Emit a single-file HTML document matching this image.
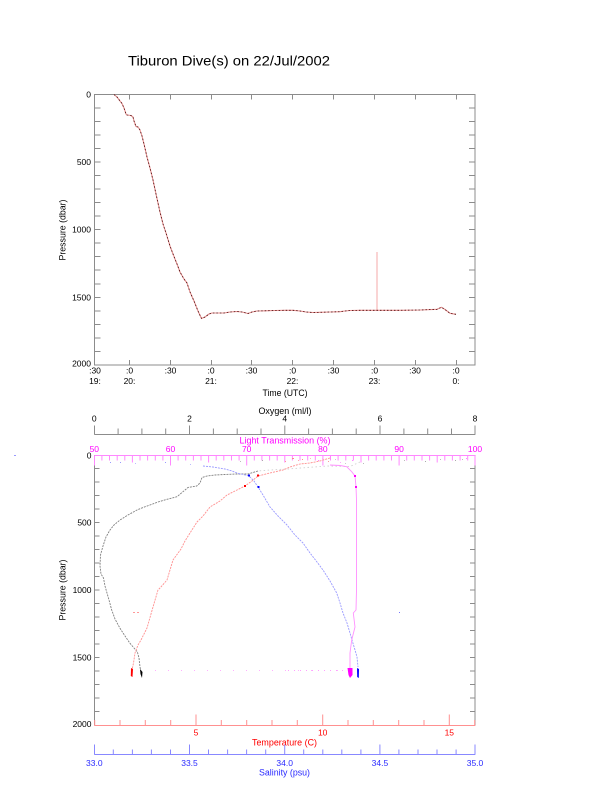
<!DOCTYPE html>
<html>
<head>
<meta charset="utf-8">
<style>
html,body{margin:0;padding:0;background:#fff;}
svg{display:block;}
text{font-family:"Liberation Sans",sans-serif;}
</style>
</head>
<body>
<svg width="612" height="785" viewBox="0 0 612 785" xmlns="http://www.w3.org/2000/svg">
<rect width="612" height="785" fill="#fff"/>

<!-- Title -->
<text x="128" y="65.5" font-size="14" fill="#000" textLength="202" lengthAdjust="spacingAndGlyphs">Tiburon Dive(s) on 22/Jul/2002</text>

<!-- ================= TOP PLOT ================= -->
<rect x="94.5" y="94.5" width="380.5" height="270.5" fill="none" stroke="#8c8c8c" stroke-width="1"/>
<path stroke="#8c8c8c" stroke-width="1" fill="none" d="
M94.5 108h6 M94.5 121.5h6 M94.5 135h6 M94.5 148.5h6 M94.5 162h6 M94.5 175.5h6 M94.5 189h6 M94.5 202.5h6 M94.5 216h6 M94.5 229.5h6 M94.5 243h6 M94.5 256.5h6 M94.5 270h6 M94.5 284h6 M94.5 297.5h6 M94.5 311h6 M94.5 324.5h6 M94.5 338h6 M94.5 351.5h6
M475 108h-6 M475 121.5h-6 M475 135h-6 M475 148.5h-6 M475 162h-6 M475 175.5h-6 M475 189h-6 M475 202.5h-6 M475 216h-6 M475 229.5h-6 M475 243h-6 M475 256.5h-6 M475 270h-6 M475 284h-6 M475 297.5h-6 M475 311h-6 M475 324.5h-6 M475 338h-6 M475 351.5h-6
M129.5 365v-5 M170.5 365v-5 M211.5 365v-5 M251.5 365v-5 M292.5 365v-5 M333.5 365v-5 M374.5 365v-5 M415.5 365v-5 M456.5 365v-5
M129.5 94.5v5 M170.5 94.5v5 M211.5 94.5v5 M251.5 94.5v5 M292.5 94.5v5 M333.5 94.5v5 M374.5 94.5v5 M415.5 94.5v5 M456.5 94.5v5
"/>
<g font-size="8.5" fill="#000" text-anchor="end">
<text x="91" y="97.5">0</text>
<text x="91" y="165">500</text>
<text x="91" y="232.5">1000</text>
<text x="91" y="300.5">1500</text>
<text x="91" y="366.5">2000</text>
</g>
<text transform="translate(65.5,230) rotate(-90)" font-size="8.8" text-anchor="middle" fill="#000" textLength="61" lengthAdjust="spacingAndGlyphs">Pressure (dbar)</text>
<g font-size="8.5" fill="#000" text-anchor="middle">
<text x="95" y="373.5">:30</text><text x="95" y="384">19:</text>
<text x="129.5" y="373.5">:0</text><text x="129.5" y="384">20:</text>
<text x="170.5" y="373.5">:30</text>
<text x="211" y="373.5">:0</text><text x="211" y="384">21:</text>
<text x="251.5" y="373.5">:30</text>
<text x="292.5" y="373.5">:0</text><text x="292.5" y="384">22:</text>
<text x="333.5" y="373.5">:30</text>
<text x="374.5" y="373.5">:0</text><text x="374.5" y="384">23:</text>
<text x="415" y="373.5">:30</text>
<text x="456" y="373.5">:0</text><text x="456" y="384">0:</text>
</g>
<text x="285" y="396" font-size="8.8" text-anchor="middle" fill="#000" textLength="45" lengthAdjust="spacingAndGlyphs">Time (UTC)</text>

<line x1="377" y1="252" x2="377" y2="310.5" stroke="#f4a8a8" stroke-width="1"/>
<polyline fill="none" stroke="#e89090" stroke-width="1.1" stroke-linejoin="round" points="
114,94.5 117,97 120,101 122,103.5 124,108 126,114 127,115 131,115.5 133,117 134,121 136,126.5 138,127 140,130 142,136 144,144 147,157 150,168 153,180 156,194 160,212 163,224 166,233 170,246 173,254 177,264 180,272 184,279 187,283 190,292 194,301 198,311 201.5,318.5 205,317 209,314 212,313 218,313 224,313 230,312 237,311.5 242,312 248,313.5 252,312 257,311 265,310.8 275,310.5 285,310.3 293,310.3 300,311 306,312 313,312.5 320,312.3 330,312 340,311.7 345,311 350,310.5 360,310.3 377,310.3 400,310.3 420,310 437,309.3 441.5,307.3 445,309.5 450,313.3 456,314.3"/>
<polyline fill="none" stroke="#4a1010" stroke-width="0.8" stroke-dasharray="1.5 2" stroke-linejoin="round" points="
114,94.5 117,97 120,101 122,103.5 124,108 126,114 127,115 131,115.5 133,117 134,121 136,126.5 138,127 140,130 142,136 144,144 147,157 150,168 153,180 156,194 160,212 163,224 166,233 170,246 173,254 177,264 180,272 184,279 187,283 190,292 194,301 198,311 201.5,318.5 205,317 209,314 212,313 218,313 224,313 230,312 237,311.5 242,312 248,313.5 252,312 257,311 265,310.8 275,310.5 285,310.3 293,310.3 300,311 306,312 313,312.5 320,312.3 330,312 340,311.7 345,311 350,310.5 360,310.3 377,310.3 400,310.3 420,310 437,309.3 441.5,307.3 445,309.5 450,313.3 456,314.3"/>

<!-- ================= BOTTOM PLOT ================= -->
<line x1="94.5" y1="455" x2="94.5" y2="725.5" stroke="#8c8c8c" stroke-width="1"/>
<line x1="475" y1="455" x2="475" y2="725.5" stroke="#8c8c8c" stroke-width="1"/>
<path stroke="#8c8c8c" stroke-width="1" fill="none" d="
M94.5 468.5h5 M94.5 482h5 M94.5 495.5h5 M94.5 509h5 M94.5 522.5h5 M94.5 536h5 M94.5 549.5h5 M94.5 563h5 M94.5 576.5h5 M94.5 590h5 M94.5 603.5h5 M94.5 617h5 M94.5 630.5h5 M94.5 644h5 M94.5 657.5h5 M94.5 671h5 M94.5 684.5h5 M94.5 698h5 M94.5 711.5h5
M475 468.5h-5 M475 482h-5 M475 495.5h-5 M475 509h-5 M475 522.5h-5 M475 536h-5 M475 549.5h-5 M475 563h-5 M475 576.5h-5 M475 590h-5 M475 603.5h-5 M475 617h-5 M475 630.5h-5 M475 644h-5 M475 657.5h-5 M475 671h-5 M475 684.5h-5 M475 698h-5 M475 711.5h-5
"/>
<g font-size="8.5" fill="#000" text-anchor="end">
<text x="91.5" y="458.5">0</text>
<text x="91.5" y="525.5">500</text>
<text x="91.5" y="593">1000</text>
<text x="91.5" y="660.5">1500</text>
<text x="91.5" y="727">2000</text>
</g>
<text transform="translate(65.5,590) rotate(-90)" font-size="8.8" text-anchor="middle" fill="#000" textLength="61" lengthAdjust="spacingAndGlyphs">Pressure (dbar)</text>

<!-- Oxygen axis -->
<line x1="94.3" y1="434.5" x2="475.3" y2="434.5" stroke="#8c8c8c" stroke-width="1"/>
<path stroke="#8c8c8c" stroke-width="1" fill="none" d="
M94.5 434.5v-9 M118.1 434.5v-6 M141.9 434.5v-6 M165.7 434.5v-6 M189.5 434.5v-9 M213.4 434.5v-6 M237.2 434.5v-6 M261 434.5v-6 M284.8 434.5v-9 M308.6 434.5v-6 M332.4 434.5v-6 M356.2 434.5v-6 M380 434.5v-9 M403.9 434.5v-6 M427.7 434.5v-6 M451.5 434.5v-6 M475 434.5v-9"/>
<g font-size="8.5" fill="#000" text-anchor="middle">
<text x="94.3" y="421.5">0</text>
<text x="189.5" y="421.5">2</text>
<text x="284.8" y="421.5">4</text>
<text x="380" y="421.5">6</text>
<text x="475" y="421.5">8</text>
</g>
<text x="285" y="414" font-size="8.8" text-anchor="middle" fill="#000" textLength="53" lengthAdjust="spacingAndGlyphs">Oxygen (ml/l)</text>

<!-- Light transmission axis -->
<line x1="94.3" y1="455.5" x2="475.3" y2="455.5" stroke="#ff88ff" stroke-width="1"/>
<path stroke="#ff88ff" stroke-width="1" fill="none" d="
M94.5 455.5v10 M101.9 455.5v5 M109.5 455.5v5 M117.2 455.5v5 M124.8 455.5v5 M132.4 455.5v7 M140 455.5v5 M147.6 455.5v5 M155.3 455.5v5 M162.9 455.5v5
M170.5 455.5v10 M178.1 455.5v5 M185.7 455.5v5 M193.4 455.5v5 M201 455.5v5 M208.6 455.5v7 M216.2 455.5v5 M223.8 455.5v5 M231.5 455.5v5 M239.1 455.5v5
M246.7 455.5v10 M254.3 455.5v5 M261.9 455.5v5 M269.6 455.5v5 M277.2 455.5v5 M284.8 455.5v7 M292.4 455.5v5 M300 455.5v5 M307.7 455.5v5 M315.3 455.5v5
M322.9 455.5v10 M330.5 455.5v5 M338.1 455.5v5 M345.8 455.5v5 M353.4 455.5v5 M361 455.5v7 M368.6 455.5v5 M376.2 455.5v5 M383.9 455.5v5 M391.5 455.5v5
M399.1 455.5v10 M406.7 455.5v5 M414.3 455.5v5 M422 455.5v5 M429.6 455.5v5 M437.2 455.5v7 M444.8 455.5v5 M452.4 455.5v5 M460.1 455.5v5 M467.7 455.5v5 M475 455.5v10"/>
<g font-size="8.5" fill="#ff00ff" text-anchor="middle">
<text x="94.3" y="452">50</text>
<text x="170.5" y="452">60</text>
<text x="246.7" y="452">70</text>
<text x="322.9" y="452">80</text>
<text x="399.1" y="452">90</text>
<text x="475" y="452">100</text>
</g>
<text x="285" y="443.5" font-size="8.8" text-anchor="middle" fill="#ff00ff" textLength="91" lengthAdjust="spacingAndGlyphs">Light Transmission (%)</text>

<!-- Temperature axis -->
<line x1="94.3" y1="725.5" x2="475.3" y2="725.5" stroke="#ff9090" stroke-width="1"/>
<path stroke="#ff9090" stroke-width="1" fill="none" d="
M94.7 725.5v-5.5 M120 725.5v-5.5 M145.3 725.5v-5.5 M170.7 725.5v-5.5 M196 725.5v-11 M221.3 725.5v-5.5 M246.7 725.5v-5.5 M272 725.5v-5.5 M297.3 725.5v-5.5 M322.7 725.5v-11 M348 725.5v-5.5 M373.3 725.5v-5.5 M398.7 725.5v-5.5 M424 725.5v-5.5 M449.3 725.5v-11 M474.7 725.5v-5.5"/>
<g font-size="8.5" fill="#ff0000" text-anchor="middle">
<text x="196" y="735.5">5</text>
<text x="322.7" y="735.5">10</text>
<text x="449.3" y="735.5">15</text>
</g>
<text x="284.5" y="745.5" font-size="8.8" text-anchor="middle" fill="#ff0000" textLength="65" lengthAdjust="spacingAndGlyphs">Temperature (C)</text>

<!-- Salinity axis -->
<line x1="94.3" y1="754.5" x2="475.3" y2="754.5" stroke="#8888ff" stroke-width="1"/>
<path stroke="#8888ff" stroke-width="1" fill="none" d="
M94.5 754.5v-10 M113.3 754.5v-5 M132.4 754.5v-5 M151.4 754.5v-5 M170.5 754.5v-5 M189.5 754.5v-10 M208.5 754.5v-5 M227.6 754.5v-5 M246.6 754.5v-5 M265.7 754.5v-5 M284.7 754.5v-10 M303.7 754.5v-5 M322.8 754.5v-5 M341.8 754.5v-5 M360.9 754.5v-5 M379.9 754.5v-10 M398.9 754.5v-5 M418 754.5v-5 M437 754.5v-5 M456.1 754.5v-5 M475 754.5v-10"/>
<g font-size="8.5" fill="#2a2aff" text-anchor="middle">
<text x="94.3" y="766">33.0</text>
<text x="189.5" y="766">33.5</text>
<text x="284.7" y="766">34.0</text>
<text x="379.9" y="766">34.5</text>
<text x="475" y="766">35.0</text>
</g>
<text x="284.5" y="775.5" font-size="8.8" text-anchor="middle" fill="#2a2aff" textLength="51" lengthAdjust="spacingAndGlyphs">Salinity (psu)</text>

<!-- scattered points -->
<g>
<rect x="110" y="462" width="1" height="1" fill="#9999ff"/>
<rect x="120" y="462" width="1" height="1" fill="#9999ff"/>
<rect x="135" y="463" width="1" height="1" fill="#bbbbff"/>
<rect x="165" y="462" width="1" height="1" fill="#9999ff"/>
<rect x="190" y="464" width="1" height="1" fill="#bbbbff"/>
<rect x="240" y="461" width="1" height="1" fill="#bbb"/>
<rect x="262" y="460" width="1" height="1" fill="#aaa"/>
<rect x="285" y="461" width="1" height="1" fill="#f99"/>
<rect x="292" y="458" width="2" height="1" fill="#f88"/>
<rect x="298" y="460" width="1" height="1" fill="#faa"/>
<rect x="302" y="459" width="1" height="1" fill="#f88"/>
<rect x="310" y="458" width="1" height="1" fill="#fbb"/>
<rect x="318" y="460" width="1" height="1" fill="#f8f"/>
<rect x="322" y="458" width="1" height="1" fill="#faf"/>
<rect x="328" y="461" width="1" height="1" fill="#f99"/>
<rect x="335" y="459" width="1" height="1" fill="#ccc"/>
<rect x="340" y="462" width="1" height="1" fill="#faf"/>
<rect x="345" y="463" width="1" height="1" fill="#ccc"/>
<rect x="352" y="460" width="1" height="1" fill="#f8f"/>
<rect x="363" y="463" width="1" height="1" fill="#bbb"/>
<rect x="404" y="460" width="1" height="1" fill="#bbb"/>
<rect x="425" y="461" width="1" height="1" fill="#aaa"/>
<rect x="440" y="459" width="1" height="1" fill="#bbb"/>
<rect x="455" y="460" width="1" height="1" fill="#aaa"/>
<rect x="462" y="459" width="1" height="1" fill="#bbb"/>
<rect x="466" y="458" width="1" height="1" fill="#f8f"/>
<rect x="133" y="612" width="2" height="1" fill="#f99"/>
<rect x="137" y="612" width="2" height="1" fill="#f99"/>
<rect x="399" y="612" width="1" height="1" fill="#77f"/>
<rect x="14" y="455" width="2" height="1" fill="#99f"/>
</g>

<line x1="155" y1="670.5" x2="345" y2="670.5" stroke="#ffb0ff" stroke-width="1" stroke-dasharray="1 12"/>
<line x1="288" y1="670.5" x2="345" y2="670.5" stroke="#ffa0ff" stroke-width="1" stroke-dasharray="1 5"/>

<!-- Oxygen (black) curve -->
<polyline fill="none" stroke="#d0d0d0" stroke-width="0.9" stroke-dasharray="1.5 2.5" points="360,462 350,466.5 327,466 288,469 270,470 258,471"/>
<polyline fill="none" stroke="#808080" stroke-width="0.9" stroke-dasharray="2 1" stroke-linejoin="round" points="
258,471 248,474 236,474 225,474.5 215,475 207,476 202,477.5 200,483 196.7,486 188,487.5 183,491.7 177,496.7 167,499.3 158,502 150,505 143,507.5 137,510 128,515 120,520 114,525 110,530 106,537 103,546 100.5,555 100,566 101,574 103.5,578 105,586 107,593 109,600 111.7,610 115,619 120,628.3 125,636 130,643.3 134,648 137.3,651.7 139,658 140,667 141,672"/>
<path d="M140 669 L142.5 672 L142 678 L140.5 674 Z" fill="#000"/>

<!-- Temperature (red) curve -->
<polyline fill="none" stroke="#ff9090" stroke-width="0.9" stroke-dasharray="2 1" stroke-linejoin="round" points="
330,458 320,461 310,463 300,464 290,467 283,470 270,473 258,476 252,481 245,486 237,490 227,495 220,501 210,507 203,516 197,522 190,533 185,541 181,549 173,560 167,580 160,588 158,590 153,607 147,628 141,640 138,645 135,653 133.5,663 132,670"/>
<rect x="257" y="474.5" width="2" height="2" fill="#f00"/>
<rect x="244" y="485" width="2" height="2" fill="#f00"/>
<path d="M131 668 L133 669 L132.5 677 L130.8 676 Z" fill="#f00"/>

<!-- Salinity (blue) curve -->
<polyline fill="none" stroke="#9a9aff" stroke-width="0.9" stroke-dasharray="2 1" stroke-linejoin="round" points="
203,466 213,467 225,469 232,471 237,473 245,475 249,476 254,481 258,487 263,495 270,507 278,516 287,525 295,535 303,543 310,553 317,562 323,570 330,581 336.7,593 340,603 343,613 347,623 350,633 352,640 355,650 357,657 358,667"/>
<rect x="248" y="474.5" width="2" height="2" fill="#00f"/>
<rect x="257.5" y="486" width="2" height="2" fill="#00f"/>
<path d="M357 668 L359 669 L358.8 678 L357.2 677 Z" fill="#00f"/>

<!-- Light transmission (magenta) curve -->
<polyline fill="none" stroke="#ff90ff" stroke-width="0.9" stroke-linejoin="round" points="
330,465 340,465.5 346.7,466.7 351.7,471.7 355,476 356,486.7 356.5,500 356.5,590 356,610 353.3,613 355,627 351.7,640 350,653 350,668"/>
<rect x="354" y="475" width="2" height="2" fill="#f0f"/>
<rect x="355" y="486" width="2" height="2" fill="#f0f"/>
<path d="M347.5 668 L352.5 668 L352.5 675 L350 678 L348.5 675 Z" fill="#ff00ff"/>
</svg>
</body>
</html>
